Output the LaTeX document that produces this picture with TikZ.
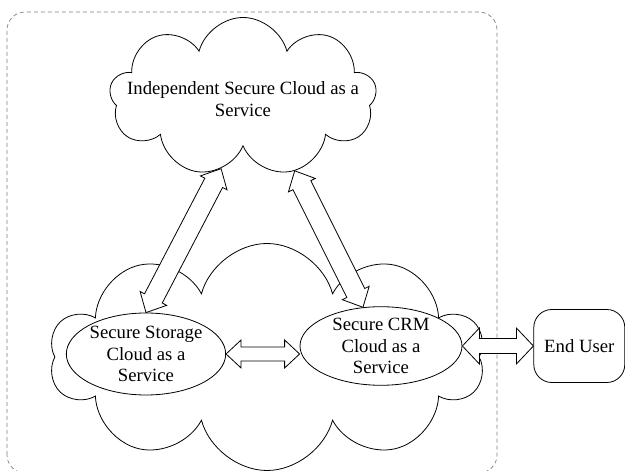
\documentclass[tikz,border=0pt]{standalone}
\usepackage{fontspec}
\setmainfont{Liberation Serif}
\usetikzlibrary{shapes.symbols,shapes.geometric,calc,positioning}

\tikzset{
  cloudbox/.style={draw, cloud, cloud puffs=10, cloud ignores aspect, fill=white, inner sep=0pt},
  servicebox/.style={draw, ellipse, fill=white, inner sep=0pt, align=center},
  userbox/.style={draw, rounded corners=18pt, fill=white, minimum width=91pt, minimum height=73pt},
  fatarrow/.style={draw, fill=white, line join=miter},
  frame/.style={draw=gray, dash pattern=on 4pt off 3pt, rounded corners=18pt, line width=0.7pt},
  lbl/.style={align=center}
}

% hollow double arrow: from, to, shaft half width, head half width, head length
\newcommand{\fatarrow}[5]{%
  \draw[fatarrow] (#1)
    -- ($(#1)!#5!(#2)!#4!90:(#2)$)
    -- ($(#1)!#5!(#2)!#3!90:(#2)$)
    -- ($(#2)!#5!(#1)!#3!-90:(#1)$)
    -- ($(#2)!#5!(#1)!#4!-90:(#1)$)
    -- (#2)
    -- ($(#2)!#5!(#1)!#4!90:(#1)$)
    -- ($(#2)!#5!(#1)!#3!90:(#1)$)
    -- ($(#1)!#5!(#2)!#3!-90:(#2)$)
    -- ($(#1)!#5!(#2)!#4!-90:(#2)$)
    -- cycle;}

\begin{document}
\begin{tikzpicture}[x=1pt, y=1pt, line width=0.8pt, font=\fontsize{18.7}{21.5}\selectfont]
\useasboundingbox (0,0) rectangle (625,471);
% frame
\draw[frame] (7,-2) rectangle (497,459);

% clouds
\node[cloudbox, minimum width=435pt, minimum height=227pt] (backcloud) at (267,114) {};
\node[cloudbox, cloud puffs=9, minimum width=267pt, minimum height=159pt] (indep) at (243,374) {};
\node[lbl] (indeptext) at (243,372) {Independent Secure Cloud as a\\Service};

% services
\node[servicebox, minimum width=159pt, minimum height=82pt] (storage) at (146,117) {Secure Storage\\Cloud as a\\Service};
\node[servicebox, minimum width=162pt, minimum height=76pt] (crm) at (381,125) {Secure CRM\\Cloud as a\\Service};
\node[userbox, right=71pt of crm] (user) {End User};
\coordinate (crmin) at (crm.west |- storage.east);

% arrows
\fatarrow{indep.-107}{storage.north}{10pt}{15pt}{16pt}
\fatarrow{indep.-55}{crm.115}{10pt}{15pt}{16pt}
\fatarrow{storage.east}{crmin}{7pt}{14pt}{15pt}
\fatarrow{crm.east}{user.west}{7.5pt}{18pt}{17pt}
\end{tikzpicture}
\end{document}
